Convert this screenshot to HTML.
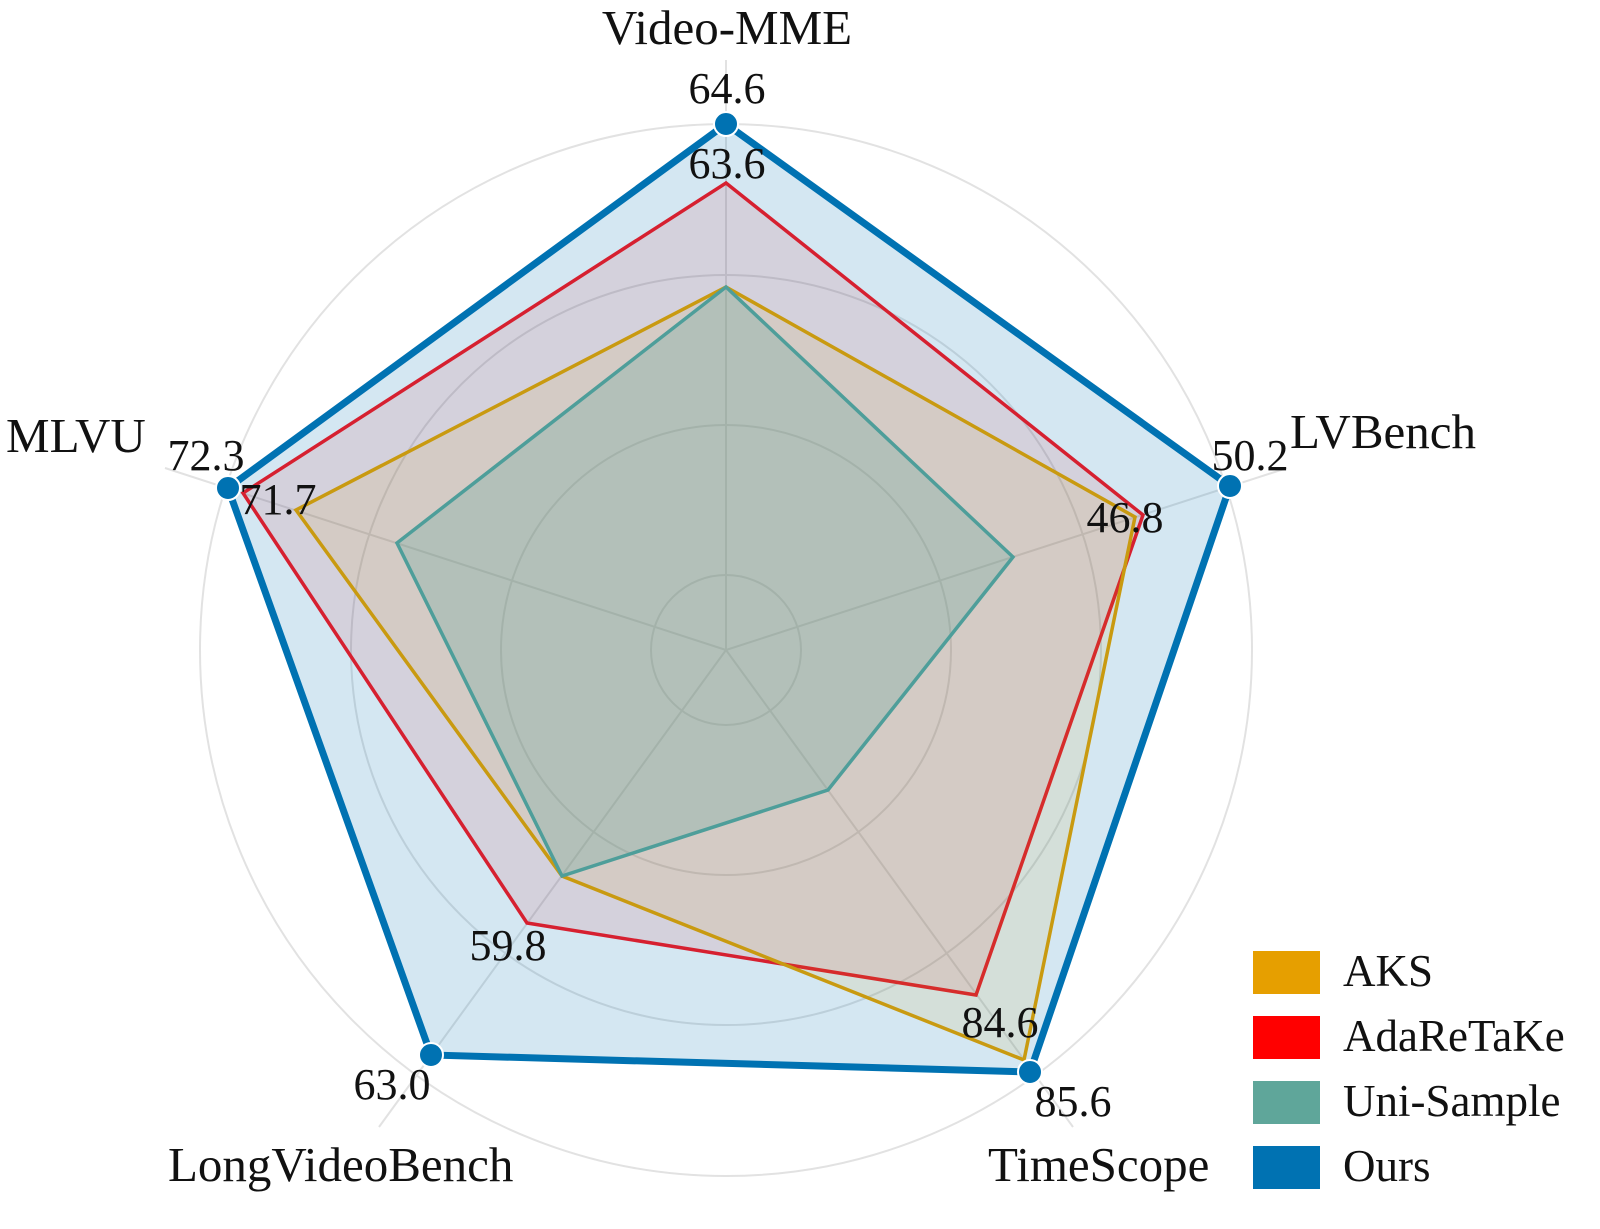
<!DOCTYPE html>
<html><head><style>html,body{margin:0;padding:0;background:#fff}</style></head><body>
<svg width="1600" height="1224" viewBox="0 0 1600 1224" xmlns="http://www.w3.org/2000/svg" font-family="Liberation Serif, serif">
<rect width="1600" height="1224" fill="#fff"/>
<g fill="none" stroke="#e2e2e2" stroke-width="2">
<circle cx="726" cy="650" r="75"/><circle cx="726" cy="650" r="225"/><circle cx="726" cy="650" r="375"/><circle cx="726" cy="650" r="526"/>
<line x1="726" y1="650" x2="726" y2="60"/>
<line x1="726" y1="650" x2="1287" y2="468"/>
<line x1="726" y1="650" x2="1073" y2="1127"/>
<line x1="726" y1="650" x2="379" y2="1127"/>
<line x1="726" y1="650" x2="165" y2="468"/>
</g>
<polygon points="726,124 1230,486 1030,1072 431,1055 228,488" fill="rgba(0,114,178,0.17)" stroke="#0072b2" stroke-width="7" stroke-linejoin="miter"/>
<polygon points="726,183 1143,515 976,995 527,923 243,493" fill="rgba(220,20,30,0.10)" stroke="#d62030" stroke-width="3.5"/>
<polygon points="726,287 1135,517 1024,1060 562,876 296,510" fill="rgba(220,160,0,0.10)" stroke="#c99a10" stroke-width="3.5"/>
<polygon points="726,287 1013,557 828,790 562,876 397,543" fill="rgba(80,160,150,0.25)" stroke="#4e9e9a" stroke-width="3.5"/>
<g fill="#0072b2" stroke="#fff" stroke-width="2">
<circle cx="726" cy="124" r="12"/><circle cx="1230" cy="486" r="12"/><circle cx="1030" cy="1072" r="12"/><circle cx="431" cy="1055" r="12"/><circle cx="228" cy="488" r="12"/>
</g>
<g font-size="49" fill="#111">
<text x="727" y="44" text-anchor="middle">Video-MME</text>
<text x="1290" y="448">LVBench</text>
<text x="6" y="452">MLVU</text>
<text x="168" y="1181">LongVideoBench</text>
<text x="988" y="1181">TimeScope</text>
</g>
<g font-size="44" fill="#111">
<text x="727" y="103" text-anchor="middle">64.6</text>
<text x="727" y="178" text-anchor="middle">63.6</text>
<text x="1250" y="470" text-anchor="middle">50.2</text>
<text x="1125" y="532" text-anchor="middle">46.8</text>
<text x="206" y="470" text-anchor="middle">72.3</text>
<text x="278" y="514" text-anchor="middle">71.7</text>
<text x="508" y="960" text-anchor="middle">59.8</text>
<text x="392" y="1099" text-anchor="middle">63.0</text>
<text x="1000" y="1037" text-anchor="middle">84.6</text>
<text x="1073" y="1116" text-anchor="middle">85.6</text>
</g>
<rect x="1253" y="951" width="67" height="43" fill="#e69f00"/>
<rect x="1253" y="1016" width="67" height="43" fill="#ff0000"/>
<rect x="1253" y="1081" width="67" height="43" fill="#5fa69a"/>
<rect x="1253" y="1146" width="67" height="43" fill="#0072b2"/>
<g font-size="45" fill="#111">
<text x="1343" y="986">AKS</text>
<text x="1343" y="1051">AdaReTaKe</text>
<text x="1343" y="1116">Uni-Sample</text>
<text x="1343" y="1181">Ours</text>
</g>
</svg>
</body></html>
